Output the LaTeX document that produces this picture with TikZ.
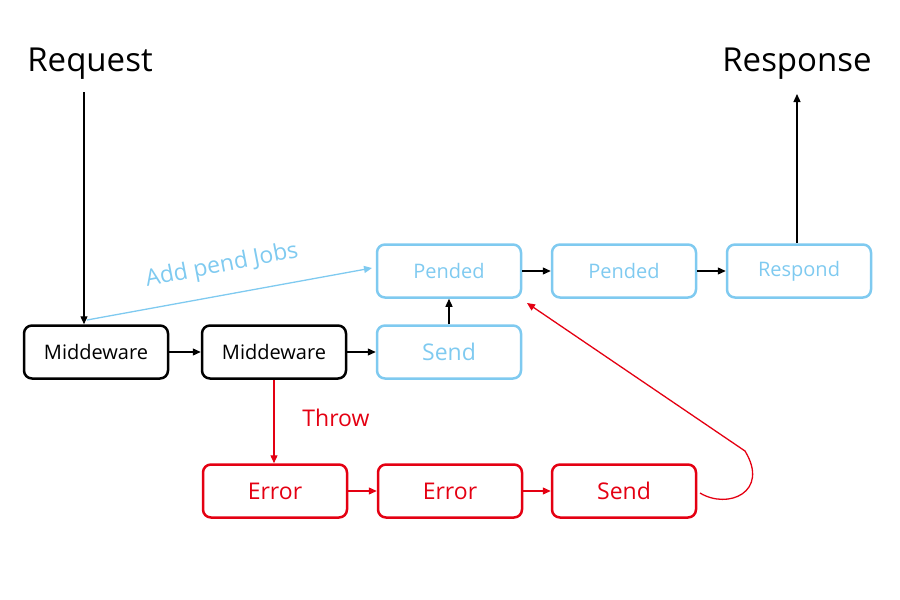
\documentclass[tikz,border=0pt]{standalone}
\usepackage{fontspec}
\setmainfont{Open Sans}
\usetikzlibrary{arrows.meta,calc}
\definecolor{skyb}{RGB}{127,202,240}
\definecolor{errred}{RGB}{228,0,18}
\tikzset{
  box/.style={draw, line width=2.5pt, rounded corners=8pt, minimum width=144pt, minimum height=53pt, inner sep=0pt, font=\fontsize{20}{24}\selectfont},
  blackbox/.style={box, draw=black, text=black},
  bluebox/.style={box, draw=skyb, text=skyb},
  redbox/.style={box, draw=errred, text=errred},
  bigbox/.style={font=\fontsize{23}{26}\selectfont},
  arr/.style={line width=1.3pt, -{Triangle[length=8pt,width=7pt]}},
  big/.style={font=\fontsize{23}{26}\selectfont},
  title/.style={font=\fontsize{33}{38}\selectfont}
}
\begin{document}
\begin{tikzpicture}[x=1pt,y=-1pt]
\useasboundingbox (0,0) rectangle (900,600);
\node[title] (req) at (90,64) {Request};
\node[title] (res) at (797,64) {Response};

\node[blackbox] (m1) at (96,352) {Middeware};
\node[blackbox] (m2) at (274,352) {Middeware};
\node[bluebox, bigbox] (s1) at (449,352) {Send};
\node[bluebox] (p1) at (449,271) {Pended};
\node[bluebox] (p2) at (624,271) {Pended};
\node[bluebox] (rs) at (799,271) {Respond};
\node[redbox, bigbox] (e1) at (275,491) {Error};
\node[redbox, bigbox] (e2) at (450,491) {Error};
\node[redbox, bigbox] (s2) at (624,491) {Send};

\coordinate (reqa) at (84,92);
\draw[arr] (reqa) -- (reqa |- m1.north);
\coordinate (resa) at (797,243);
\draw[arr] (resa) -- (797,94) coordinate (resb);

\draw[arr] (m1.east) -- (m2.west);
\draw[arr] (m2.east) -- (s1.west);
\draw[arr] (s1.north) -- (p1.south);
\draw[arr] (p1.east) -- (p2.west);
\draw[arr] (p2.east) -- (rs.west);

\draw[arr, errred] (m2.south) -- (m2.south |- e1.north);
\node[big, text=errred] (thr) at (336,418) {Throw};
\draw[arr, errred] (e1.east) -- (e2.west);
\draw[arr, errred] (e2.east) -- (s2.west);

\coordinate (ajs) at (87,320);
\coordinate (aje) at (372,268);
\draw[arr, skyb] (ajs) -- (aje);
\node[big, text=skyb, rotate=11, inner sep=1pt] (ajl) at (222,266) {Add pend Jobs};

\coordinate (cs) at (700,493);
\coordinate (cm) at (745,451);
\coordinate (ce) at (527,303);
\draw[arr, errred] (cs) .. controls (728,510) and (770,492) .. (cm) -- (ce);
\end{tikzpicture}
\end{document}
